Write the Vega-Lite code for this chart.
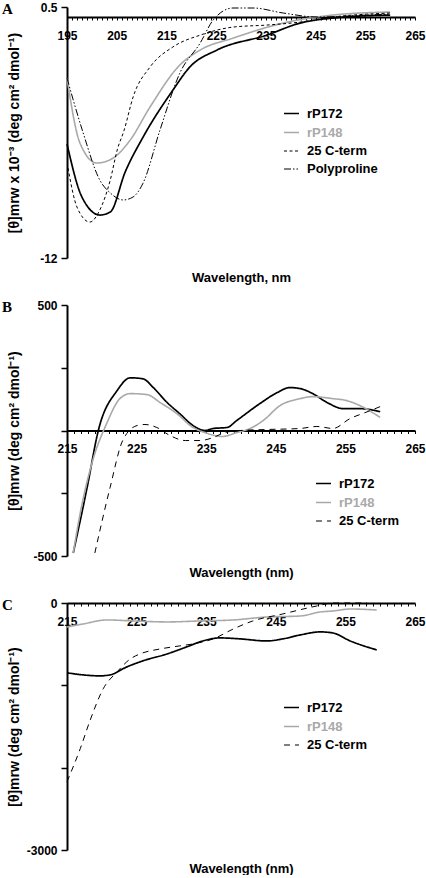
{
  "$schema": "https://vega.github.io/schema/vega-lite/v6.json",
  "padding": {"left": 2, "top": 1, "right": 0, "bottom": 0},
  "spacing": 47,
  "bounds": "flush",
  "config": {
    "font": "Liberation Sans",
    "view": {"stroke": null},
    "axis": {"grid": false, "domainColor": "#000", "domainWidth": 2, "tickColor": "#000", "labelColor": "#000", "labelFont": "Liberation Sans", "labelFontWeight": "bold", "labelFontSize": 12, "titleFont": "Liberation Sans", "titleFontWeight": "bold", "titleFontSize": 13, "titleColor": "#000"},
    "axisX": {"tickSize": 3, "tickWidth": 1, "labelPadding": 10, "labelFlush": false, "labelOverlap": false, "titleBaseline": "middle"},
    "axisY": {"tickSize": 6, "tickWidth": 1.5, "labelPadding": 4, "labelOverlap": false, "titleX": -53, "titleBaseline": "middle", "titleFontSize": 14},
    "legend": {"symbolType": "stroke", "symbolSize": 225, "labelFont": "Liberation Sans", "labelFontSize": 13, "labelFontWeight": "bold", "labelOffset": 7, "rowPadding": 3, "labelColor": "#000"},
    "title": {"font": "Liberation Serif", "fontSize": 15, "fontWeight": "bold", "color": "#000", "anchor": "start", "frame": "group", "orient": "top", "align": "left", "baseline": "alphabetic", "dx": -65, "offset": -16}
  },
  "vconcat": [
    {
      "title": {"text": "A"},
      "width": 348,
      "height": 251,
      "data": {"values": [
        {"s": "rP172", "x": 195, "y": -6.32}, {"s": "rP172", "x": 198, "y": -8.96}, {"s": "rP172", "x": 201.6, "y": -9.86}, {"s": "rP172", "x": 203.7, "y": -9.71}, {"s": "rP172", "x": 206.7, "y": -7.72}, {"s": "rP172", "x": 210.3, "y": -5.98}, {"s": "rP172", "x": 216.3, "y": -3.64}, {"s": "rP172", "x": 219.7, "y": -2.49}, {"s": "rP172", "x": 225.2, "y": -1.64}, {"s": "rP172", "x": 235.2, "y": -0.9}, {"s": "rP172", "x": 241.9, "y": -0.3}, {"s": "rP172", "x": 248.5, "y": -0.05}, {"s": "rP172", "x": 260, "y": 0.1},
        {"s": "rP148", "x": 195, "y": -3.04}, {"s": "rP148", "x": 197.6, "y": -6.27}, {"s": "rP148", "x": 201, "y": -7.27}, {"s": "rP148", "x": 204.3, "y": -7.02}, {"s": "rP148", "x": 207.7, "y": -6.13}, {"s": "rP148", "x": 211.7, "y": -4.48}, {"s": "rP148", "x": 217.7, "y": -2.39}, {"s": "rP148", "x": 221.8, "y": -1.64}, {"s": "rP148", "x": 228.4, "y": -1.05}, {"s": "rP148", "x": 238.5, "y": -0.3}, {"s": "rP148", "x": 248.5, "y": 0.1}, {"s": "rP148", "x": 260, "y": 0.25},
        {"s": "25 C-term", "x": 195.2, "y": -7.52}, {"s": "25 C-term", "x": 197, "y": -9.46}, {"s": "25 C-term", "x": 199.6, "y": -10.21}, {"s": "25 C-term", "x": 201.6, "y": -9.61}, {"s": "25 C-term", "x": 203.7, "y": -8.12}, {"s": "25 C-term", "x": 205.1, "y": -6.62}, {"s": "25 C-term", "x": 206.5, "y": -5.63}, {"s": "25 C-term", "x": 208.3, "y": -3.98}, {"s": "25 C-term", "x": 211.7, "y": -2.49}, {"s": "25 C-term", "x": 216.3, "y": -1.49}, {"s": "25 C-term", "x": 221.8, "y": -0.9}, {"s": "25 C-term", "x": 228.4, "y": -0.5}, {"s": "25 C-term", "x": 235.2, "y": -0.4}, {"s": "25 C-term", "x": 241.9, "y": -0.25}, {"s": "25 C-term", "x": 248.5, "y": 0}, {"s": "25 C-term", "x": 260, "y": 0.2},
        {"s": "Polyproline", "x": 195, "y": -3.04}, {"s": "Polyproline", "x": 198.2, "y": -5.73}, {"s": "Polyproline", "x": 201.6, "y": -8.12}, {"s": "Polyproline", "x": 203.7, "y": -8.76}, {"s": "Polyproline", "x": 206.3, "y": -9.11}, {"s": "Polyproline", "x": 208.3, "y": -8.96}, {"s": "Polyproline", "x": 210.3, "y": -8.27}, {"s": "Polyproline", "x": 213.7, "y": -5.63}, {"s": "Polyproline", "x": 217.7, "y": -2.79}, {"s": "Polyproline", "x": 221.8, "y": -1.29}, {"s": "Polyproline", "x": 224.4, "y": -0.15}, {"s": "Polyproline", "x": 228.4, "y": 0.45}, {"s": "Polyproline", "x": 232.4, "y": 0.45}, {"s": "Polyproline", "x": 238.5, "y": 0.2}, {"s": "Polyproline", "x": 245.3, "y": 0}, {"s": "Polyproline", "x": 255.4, "y": 0.1}, {"s": "Polyproline", "x": 260, "y": 0.15}
      ]},
      "mark": {"type": "line", "interpolate": "monotone"},
      "encoding": {
        "x": {"field": "x", "type": "quantitative", "scale": {"domain": [195, 265], "nice": false, "zero": false},
          "axis": {"title": "Wavelength, nm", "offset": -241, "titleY": 260, "values": [195,196,197,198,199,200,201,202,203,204,205,206,207,208,209,210,211,212,213,214,215,216,217,218,219,220,221,222,223,224,225,226,227,228,229,230,231,232,233,234,235,236,237,238,239,240,241,242,243,244,245,246,247,248,249,250,251,252,253,254,255,256,257,258,259,260,261,262,263,264,265], "labelExpr": "datum.value % 10 == 5 ? '' + datum.value : ''"}},
        "y": {"field": "y", "type": "quantitative", "scale": {"domain": [-12, 0.5], "nice": false, "zero": false},
          "axis": {"title": "[θ]mrw x 10⁻³ (deg cm² dmol⁻¹)", "values": [0.5, -12], "labelExpr": "'' + datum.value"}},
        "color": {"field": "s", "type": "nominal", "scale": {"domain": ["rP172", "rP148", "25 C-term", "Polyproline"], "range": ["#000000", "#a9a9a9", "#000000", "#000000"]},
          "legend": {"title": null, "orient": "none", "legendX": 216, "legendY": 98, "encode": {"labels": {"update": {"fill": {"signal": "datum.label == 'rP148' ? '#a9a9a9' : '#000000'"}}}}}},
        "strokeDash": {"field": "s", "type": "nominal", "scale": {"domain": ["rP172", "rP148", "25 C-term", "Polyproline"], "range": [[1, 0], [1, 0], [3, 2.5], [7, 2, 1.5, 2, 1.5, 2]]}},
        "strokeWidth": {"field": "s", "type": "nominal", "scale": {"type": "ordinal", "domain": ["rP172", "rP148", "25 C-term", "Polyproline"], "range": [1.7, 1.6, 1, 1]}}
      }
    },
    {
      "title": {"text": "B"},
      "width": 348,
      "height": 251,
      "data": {"values": [
        {"s": "rP172", "x": 215.9, "y": -488}, {"s": "rP172", "x": 217.9, "y": -226}, {"s": "rP172", "x": 219.5, "y": 0}, {"s": "rP172", "x": 222.2, "y": 159}, {"s": "rP172", "x": 224.1, "y": 210}, {"s": "rP172", "x": 225.9, "y": 206}, {"s": "rP172", "x": 227.4, "y": 171}, {"s": "rP172", "x": 229.4, "y": 111}, {"s": "rP172", "x": 231.2, "y": 67}, {"s": "rP172", "x": 233.1, "y": 20}, {"s": "rP172", "x": 234.8, "y": 0}, {"s": "rP172", "x": 236, "y": 8}, {"s": "rP172", "x": 238, "y": 12}, {"s": "rP172", "x": 239.4, "y": 40}, {"s": "rP172", "x": 242.7, "y": 107}, {"s": "rP172", "x": 245.2, "y": 151}, {"s": "rP172", "x": 247, "y": 171}, {"s": "rP172", "x": 248.5, "y": 167}, {"s": "rP172", "x": 250.3, "y": 147}, {"s": "rP172", "x": 252.4, "y": 111}, {"s": "rP172", "x": 254.7, "y": 87}, {"s": "rP172", "x": 257.1, "y": 87}, {"s": "rP172", "x": 260, "y": 75},
        {"s": "rP148", "x": 215.9, "y": -488}, {"s": "rP148", "x": 216.9, "y": -329}, {"s": "rP148", "x": 218.7, "y": -119}, {"s": "rP148", "x": 220.7, "y": 28}, {"s": "rP148", "x": 222.6, "y": 127}, {"s": "rP148", "x": 224.1, "y": 147}, {"s": "rP148", "x": 226.5, "y": 143}, {"s": "rP148", "x": 228.4, "y": 111}, {"s": "rP148", "x": 230.8, "y": 67}, {"s": "rP148", "x": 233.1, "y": 12}, {"s": "rP148", "x": 234.8, "y": -8}, {"s": "rP148", "x": 237.3, "y": -24}, {"s": "rP148", "x": 239.4, "y": -8}, {"s": "rP148", "x": 241.3, "y": 8}, {"s": "rP148", "x": 243.2, "y": 40}, {"s": "rP148", "x": 245.6, "y": 99}, {"s": "rP148", "x": 248.5, "y": 127}, {"s": "rP148", "x": 250.3, "y": 135}, {"s": "rP148", "x": 253.2, "y": 127}, {"s": "rP148", "x": 255.2, "y": 119}, {"s": "rP148", "x": 257.1, "y": 99}, {"s": "rP148", "x": 260, "y": 52},
        {"s": "25 C-term", "x": 219, "y": -488}, {"s": "25 C-term", "x": 221.2, "y": -226}, {"s": "25 C-term", "x": 223, "y": -40}, {"s": "25 C-term", "x": 225.1, "y": 20}, {"s": "25 C-term", "x": 226.2, "y": 24}, {"s": "25 C-term", "x": 227.9, "y": 12}, {"s": "25 C-term", "x": 229.8, "y": -20}, {"s": "25 C-term", "x": 232, "y": -40}, {"s": "25 C-term", "x": 234.1, "y": -40}, {"s": "25 C-term", "x": 236, "y": -28}, {"s": "25 C-term", "x": 237.7, "y": -8}, {"s": "25 C-term", "x": 239.9, "y": 0}, {"s": "25 C-term", "x": 243.7, "y": 4}, {"s": "25 C-term", "x": 248.5, "y": 8}, {"s": "25 C-term", "x": 250.9, "y": 16}, {"s": "25 C-term", "x": 253.2, "y": 8}, {"s": "25 C-term", "x": 255.7, "y": 48}, {"s": "25 C-term", "x": 257.8, "y": 71}, {"s": "25 C-term", "x": 260, "y": 95}
      ]},
      "mark": {"type": "line", "interpolate": "monotone"},
      "encoding": {
        "x": {"field": "x", "type": "quantitative", "scale": {"domain": [215, 265], "nice": false, "zero": false},
          "axis": {"title": "Wavelength (nm)", "offset": -125.5, "titleY": 141.5, "values": [215,216,217,218,219,220,221,222,223,224,225,226,227,228,229,230,231,232,233,234,235,236,237,238,239,240,241,242,243,244,245,246,247,248,249,250,251,252,253,254,255,256,257,258,259,260,261,262,263,264,265], "labelExpr": "datum.value % 10 == 5 ? '' + datum.value : ''"}},
        "y": {"field": "y", "type": "quantitative", "scale": {"domain": [-500, 500], "nice": false, "zero": false},
          "axis": {"title": "[θ]mrw (deg cm² dmol⁻¹)", "values": [500, 250, 0, -250, -500], "labelExpr": "abs(datum.value) == 500 ? '' + datum.value : ''"}},
        "color": {"field": "s", "type": "nominal", "scale": {"domain": ["rP172", "rP148", "25 C-term"], "range": ["#000000", "#a9a9a9", "#000000"]},
          "legend": {"title": null, "orient": "none", "legendX": 248, "legendY": 170, "encode": {"labels": {"update": {"fill": {"signal": "datum.label == 'rP148' ? '#a9a9a9' : '#000000'"}}}}}},
        "strokeDash": {"field": "s", "type": "nominal", "scale": {"domain": ["rP172", "rP148", "25 C-term"], "range": [[1, 0], [1, 0], [6, 5]]}},
        "strokeWidth": {"field": "s", "type": "nominal", "scale": {"type": "ordinal", "domain": ["rP172", "rP148", "25 C-term"], "range": [1.7, 1.6, 1]}}
      }
    },
    {
      "title": {"text": "C"},
      "width": 348,
      "height": 247,
      "data": {"values": [
        {"s": "rP172", "x": 215, "y": -848}, {"s": "rP172", "x": 217.3, "y": -873}, {"s": "rP172", "x": 219.7, "y": -885}, {"s": "rP172", "x": 221.2, "y": -873}, {"s": "rP172", "x": 223.6, "y": -776}, {"s": "rP172", "x": 225.9, "y": -703}, {"s": "rP172", "x": 229.4, "y": -618}, {"s": "rP172", "x": 232.2, "y": -533}, {"s": "rP172", "x": 234.5, "y": -461}, {"s": "rP172", "x": 237, "y": -424}, {"s": "rP172", "x": 239.9, "y": -436}, {"s": "rP172", "x": 243.7, "y": -461}, {"s": "rP172", "x": 246, "y": -436}, {"s": "rP172", "x": 248.5, "y": -388}, {"s": "rP172", "x": 251.4, "y": -351}, {"s": "rP172", "x": 253.2, "y": -364}, {"s": "rP172", "x": 255.7, "y": -461}, {"s": "rP172", "x": 259.5, "y": -570},
        {"s": "rP148", "x": 215, "y": -291}, {"s": "rP148", "x": 217.3, "y": -255}, {"s": "rP148", "x": 220.7, "y": -206}, {"s": "rP148", "x": 224.6, "y": -218}, {"s": "rP148", "x": 229.4, "y": -230}, {"s": "rP148", "x": 234.1, "y": -218}, {"s": "rP148", "x": 238.9, "y": -206}, {"s": "rP148", "x": 243.7, "y": -170}, {"s": "rP148", "x": 248.5, "y": -158}, {"s": "rP148", "x": 251.4, "y": -109}, {"s": "rP148", "x": 253.2, "y": -97}, {"s": "rP148", "x": 255.7, "y": -73}, {"s": "rP148", "x": 259.5, "y": -85},
        {"s": "25 C-term", "x": 215, "y": -2170}, {"s": "25 C-term", "x": 216.9, "y": -1770}, {"s": "25 C-term", "x": 218.3, "y": -1430}, {"s": "25 C-term", "x": 220.2, "y": -1042}, {"s": "25 C-term", "x": 222.2, "y": -836}, {"s": "25 C-term", "x": 224.1, "y": -679}, {"s": "25 C-term", "x": 225.5, "y": -618}, {"s": "25 C-term", "x": 228.4, "y": -558}, {"s": "25 C-term", "x": 231.2, "y": -521}, {"s": "25 C-term", "x": 233.1, "y": -497}, {"s": "25 C-term", "x": 236, "y": -436}, {"s": "25 C-term", "x": 238.9, "y": -315}, {"s": "25 C-term", "x": 241.7, "y": -218}, {"s": "25 C-term", "x": 246, "y": -133}, {"s": "25 C-term", "x": 250.9, "y": -36}, {"s": "25 C-term", "x": 253.2, "y": 0}, {"s": "25 C-term", "x": 258.1, "y": 0}
      ]},
      "mark": {"type": "line", "interpolate": "monotone"},
      "encoding": {
        "x": {"field": "x", "type": "quantitative", "scale": {"domain": [215, 265], "nice": false, "zero": false},
          "axis": {"title": "Wavelength (nm)", "offset": -247, "titleY": 265, "values": [215,216,217,218,219,220,221,222,223,224,225,226,227,228,229,230,231,232,233,234,235,236,237,238,239,240,241,242,243,244,245,246,247,248,249,250,251,252,253,254,255,256,257,258,259,260,261,262,263,264,265], "labelExpr": "datum.value % 10 == 5 ? '' + datum.value : ''"}},
        "y": {"field": "y", "type": "quantitative", "scale": {"domain": [-3000, 0], "nice": false, "zero": false},
          "axis": {"title": "[θ]mrw (deg cm² dmol⁻¹)", "values": [0, -1000, -2000, -3000], "labelExpr": "datum.value == 0 || datum.value == -3000 ? '' + datum.value : ''"}},
        "color": {"field": "s", "type": "nominal", "scale": {"domain": ["rP172", "rP148", "25 C-term"], "range": ["#000000", "#a9a9a9", "#000000"]},
          "legend": {"title": null, "orient": "none", "legendX": 216, "legendY": 96, "encode": {"labels": {"update": {"fill": {"signal": "datum.label == 'rP148' ? '#a9a9a9' : '#000000'"}}}}}},
        "strokeDash": {"field": "s", "type": "nominal", "scale": {"domain": ["rP172", "rP148", "25 C-term"], "range": [[1, 0], [1, 0], [6, 5]]}},
        "strokeWidth": {"field": "s", "type": "nominal", "scale": {"type": "ordinal", "domain": ["rP172", "rP148", "25 C-term"], "range": [1.7, 1.6, 1]}}
      }
    }
  ],
  "resolve": {"scale": {"x": "independent", "y": "independent", "color": "independent", "strokeDash": "independent", "strokeWidth": "independent"}, "legend": {"color": "independent", "strokeDash": "independent", "strokeWidth": "independent"}}
}
